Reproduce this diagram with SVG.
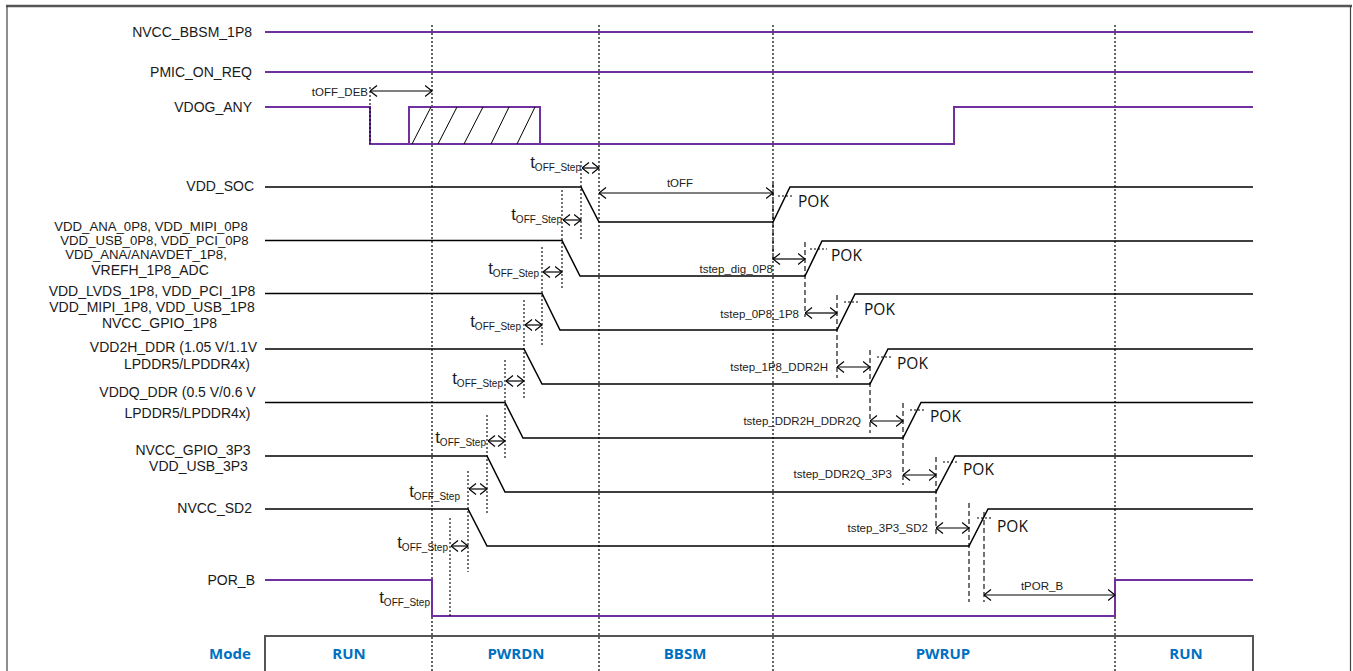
<svg xmlns="http://www.w3.org/2000/svg" width="1353" height="671" viewBox="0 0 1353 671">
<style>
.lbl{font-family:"Liberation Sans",Arial,sans-serif;font-size:14px;fill:#1a1a1a}
.lbs{font-family:"Liberation Sans",Arial,sans-serif;font-size:13.2px;fill:#1a1a1a}
.ann{font-family:"Liberation Sans",Arial,sans-serif;font-size:11.5px;fill:#222}
.ts{font-family:"Liberation Sans",Arial,sans-serif;font-size:17px;fill:#1a1a1a}
.sub{font-size:10px}
.pok{font-family:"Open Sans","Liberation Sans",sans-serif;font-size:15.5px;fill:#111}
.mode{font-family:"Open Sans","Liberation Sans",sans-serif;font-size:15px;font-weight:bold;fill:#0070C0}
.pur{fill:none;stroke:#7030A0;stroke-width:2}
.blk{fill:none;stroke:#000;stroke-width:1.5}
.phase{fill:none;stroke:#000;stroke-width:1.2;stroke-dasharray:2,2}
.dot{fill:none;stroke:#000;stroke-width:1.1;stroke-dasharray:2,2}
.dash{fill:none;stroke:#000;stroke-width:1.1;stroke-dasharray:5,3}
.arr{fill:none;stroke:#000;stroke-width:1.2;marker-start:url(#ah);marker-end:url(#ah)}
.hatch{fill:none;stroke:#000;stroke-width:1}
</style>
<defs>
<marker id="ah" viewBox="0 0 8 12" refX="7.5" refY="6" markerWidth="8" markerHeight="12" markerUnits="userSpaceOnUse" orient="auto-start-reverse">
<path d="M0.5,0.5 L7.5,6 L0.5,11.5" fill="none" stroke="#000" stroke-width="1.2"/>
</marker>
</defs>
<rect width="1353" height="671" fill="#fff"/>
<g id="frame">
<line x1="6" y1="6" x2="1352" y2="6" stroke="#555" stroke-width="2.5"/>
<line x1="7" y1="6" x2="7" y2="671" stroke="#444" stroke-width="1.2"/>
<line x1="1350.5" y1="6" x2="1350.5" y2="671" stroke="#444" stroke-width="1.2"/>
<path d="M265,672 V636 H1253 V672" fill="none" stroke="#555" stroke-width="2"/>
</g>
<g id="phases">
<line class="phase" x1="432" y1="25" x2="432" y2="671"/>
<line class="phase" x1="599" y1="25" x2="599" y2="671"/>
<line class="phase" x1="773" y1="25" x2="773" y2="671"/>
<line class="phase" x1="1115" y1="25" x2="1115" y2="671"/>
</g>
<g id="sig-nvcc-bbsm">
<text class="lbl" x="252" y="37" text-anchor="end">NVCC_BBSM_1P8</text>
<line class="pur" x1="265" y1="32" x2="1253" y2="32"/>
</g>
<g id="sig-pmic">
<text class="lbl" x="252" y="77" text-anchor="end">PMIC_ON_REQ</text>
<line class="pur" x1="265" y1="72" x2="1253" y2="72"/>
</g>
<g id="sig-vdog">
<text class="lbl" x="252" y="112" text-anchor="end">VDOG_ANY</text>
<path class="pur" d="M265,107 H370 V144 H954 V107 H1253"/>
<path class="pur" d="M409,144 V107 H540 V144"/>
<path class="hatch" d="M412,144 L431,107 M438,144 L457,107 M464,144 L483,107 M491,144 L509,107 M517,144 L535,107"/>
</g>
<g id="sig-vdd-soc">
<text class="lbl" x="254" y="191" text-anchor="end">VDD_SOC</text>
<path class="blk" d="M265,187 H581 L599,222 H773 L790,187 H1253"/>
<line class="dot" x1="778" y1="196" x2="794" y2="196"/>
<text class="pok" x="798" y="207">POK</text>
</g>
<g id="sig-vdd-ana">
<text class="lbs" x="151" y="230.5" text-anchor="middle">VDD_ANA_0P8, VDD_MIPI_0P8</text>
<text class="lbs" x="154.5" y="244.5" text-anchor="middle">VDD_USB_0P8, VDD_PCI_0P8</text>
<text class="lbs" x="146" y="258.5" text-anchor="middle">VDD_ANA/ANAVDET_1P8,</text>
<text class="lbl" x="150" y="275" text-anchor="middle">VREFH_1P8_ADC</text>
<path class="blk" d="M265,240.5 H562 L580,276 H805 L822,241 H1253"/>
<line class="dot" x1="810" y1="249" x2="827" y2="249"/>
<text class="pok" x="831" y="261">POK</text>
</g>
<g id="sig-vdd-lvds">
<text class="lbl" x="152" y="296" text-anchor="middle">VDD_LVDS_1P8, VDD_PCI_1P8</text>
<text class="lbl" x="152" y="312" text-anchor="middle">VDD_MIPI_1P8, VDD_USB_1P8</text>
<text class="lbl" x="159.5" y="328" text-anchor="middle">NVCC_GPIO_1P8</text>
<path class="blk" d="M265,293.5 H542 L560,330 H837 L855,294 H1253"/>
<line class="dot" x1="844" y1="302" x2="859" y2="302"/>
<text class="pok" x="864" y="314.5">POK</text>
</g>
<g id="sig-vdd2h">
<text class="lbl" x="173.5" y="352" text-anchor="middle">VDD2H_DDR (1.05 V/1.1V</text>
<text class="lbl" x="187" y="369" text-anchor="middle">LPDDR5/LPDDR4x)</text>
<path class="blk" d="M265,349 H524 L542,384 H870 L888,349 H1253"/>
<line class="dot" x1="877" y1="357" x2="892" y2="357"/>
<text class="pok" x="897" y="368.5">POK</text>
</g>
<g id="sig-vddq">
<text class="lbl" x="177.5" y="397" text-anchor="middle">VDDQ_DDR (0.5 V/0.6 V</text>
<text class="lbl" x="187.5" y="418" text-anchor="middle">LPDDR5/LPDDR4x)</text>
<path class="blk" d="M265,402.5 H505 L523,438 H903 L921,402.5 H1253"/>
<line class="dot" x1="910" y1="410" x2="926" y2="410"/>
<text class="pok" x="930" y="422">POK</text>
</g>
<g id="sig-gpio-3p3">
<text class="lbl" x="193" y="455" text-anchor="middle">NVCC_GPIO_3P3</text>
<text class="lbl" x="198.5" y="470.5" text-anchor="middle">VDD_USB_3P3</text>
<path class="blk" d="M265,456 H487 L505,492 H936 L955,456 H1253"/>
<line class="dot" x1="943" y1="462" x2="959" y2="462"/>
<text class="pok" x="963" y="475">POK</text>
</g>
<g id="sig-sd2">
<text class="lbl" x="252" y="513" text-anchor="end">NVCC_SD2</text>
<path class="blk" d="M265,509 H468 L487,546 H969 L988,509 H1253"/>
<line class="dot" x1="977" y1="518" x2="993" y2="518"/>
<text class="pok" x="997" y="531.5">POK</text>
</g>
<g id="sig-por-b">
<text class="lbl" x="255" y="585" text-anchor="end">POR_B</text>
<path class="pur" d="M265,580 H432 V616 H1115 V580 H1253"/>
</g>
<g id="connectors">
<line class="dot" x1="370" y1="87" x2="370" y2="144"/>
<line class="arr" x1="370" y1="91" x2="432" y2="91"/>
<line class="arr" x1="599" y1="193" x2="773" y2="193"/>
<line class="dot" x1="581" y1="161" x2="581" y2="239"/>
<line class="dot" x1="562" y1="190" x2="562" y2="290"/>
<line class="dot" x1="542" y1="247" x2="542" y2="347"/>
<line class="dot" x1="524" y1="300" x2="524" y2="400"/>
<line class="dot" x1="505" y1="360" x2="505" y2="460"/>
<line class="dot" x1="487" y1="415" x2="487" y2="515"/>
<line class="dot" x1="468" y1="471" x2="468" y2="572"/>
<line class="dot" x1="450" y1="518" x2="450" y2="618"/>
<line class="arr" x1="582" y1="168" x2="599" y2="168"/>
<line class="arr" x1="563" y1="220" x2="581" y2="220"/>
<line class="arr" x1="543" y1="272" x2="562" y2="272"/>
<line class="arr" x1="525" y1="325" x2="542" y2="325"/>
<line class="arr" x1="506" y1="381" x2="524" y2="381"/>
<line class="arr" x1="488" y1="441" x2="505" y2="441"/>
<line class="arr" x1="469" y1="489" x2="487" y2="489"/>
<line class="arr" x1="451" y1="546" x2="468" y2="546"/>
<line class="dash" x1="773" y1="183" x2="773" y2="262"/>
<line class="dash" x1="805" y1="242" x2="805" y2="317"/>
<line class="dash" x1="837" y1="295" x2="837" y2="378"/>
<line class="dash" x1="870" y1="350" x2="870" y2="433"/>
<line class="dash" x1="903" y1="403" x2="903" y2="485"/>
<line class="dash" x1="936" y1="457" x2="936" y2="537"/>
<line class="dash" x1="969" y1="503" x2="969" y2="602"/>
<line class="dash" x1="984" y1="512" x2="984" y2="602"/>
<line class="arr" x1="773" y1="259" x2="805" y2="259"/>
<line class="arr" x1="805" y1="313" x2="837" y2="313"/>
<line class="arr" x1="837" y1="367" x2="870" y2="367"/>
<line class="arr" x1="870" y1="421" x2="903" y2="421"/>
<line class="arr" x1="903" y1="475" x2="936" y2="475"/>
<line class="arr" x1="936" y1="528" x2="969" y2="528"/>
<line class="arr" x1="984" y1="595" x2="1115" y2="595"/>
</g>
<g id="annotations">
<text class="ann" x="368" y="96" text-anchor="end" font-size="12">tOFF_DEB</text>
<text class="ann" x="680" y="187" text-anchor="middle" font-size="12">tOFF</text>
<text class="ann" x="1042" y="590" text-anchor="middle" font-size="12">tPOR_B</text>
<text class="ann" x="773" y="273" text-anchor="end">tstep_dig_0P8</text>
<text class="ann" x="799" y="318" text-anchor="end">tstep_0P8_1P8</text>
<text class="ann" x="828" y="371" text-anchor="end">tstep_1P8_DDR2H</text>
<text class="ann" x="861" y="424.5" text-anchor="end">tstep_DDR2H_DDR2Q</text>
<text class="ann" x="892" y="478" text-anchor="end">tstep_DDR2Q_3P3</text>
<text class="ann" x="928" y="532" text-anchor="end">tstep_3P3_SD2</text>
<text class="ts" x="581" y="168" text-anchor="end">t<tspan class="sub" dy="3">OFF_Step</tspan></text>
<text class="ts" x="562" y="220" text-anchor="end">t<tspan class="sub" dy="3">OFF_Step</tspan></text>
<text class="ts" x="539" y="274" text-anchor="end">t<tspan class="sub" dy="3">OFF_Step</tspan></text>
<text class="ts" x="521" y="327" text-anchor="end">t<tspan class="sub" dy="3">OFF_Step</tspan></text>
<text class="ts" x="503" y="384" text-anchor="end">t<tspan class="sub" dy="3">OFF_Step</tspan></text>
<text class="ts" x="486" y="443" text-anchor="end">t<tspan class="sub" dy="3">OFF_Step</tspan></text>
<text class="ts" x="460" y="497" text-anchor="end">t<tspan class="sub" dy="3">OFF_Step</tspan></text>
<text class="ts" x="448" y="548" text-anchor="end">t<tspan class="sub" dy="3">OFF_Step</tspan></text>
<text class="ts" x="430" y="603" text-anchor="end">t<tspan class="sub" dy="3">OFF_Step</tspan></text>
</g>
<g id="mode-row">
<text class="mode" x="230" y="659" text-anchor="middle">Mode</text>
<text class="mode" x="349" y="659" text-anchor="middle">RUN</text>
<text class="mode" x="516" y="659" text-anchor="middle">PWRDN</text>
<text class="mode" x="685" y="659" text-anchor="middle">BBSM</text>
<text class="mode" x="943" y="659" text-anchor="middle">PWRUP</text>
<text class="mode" x="1186" y="659" text-anchor="middle">RUN</text>
</g>
</svg>
